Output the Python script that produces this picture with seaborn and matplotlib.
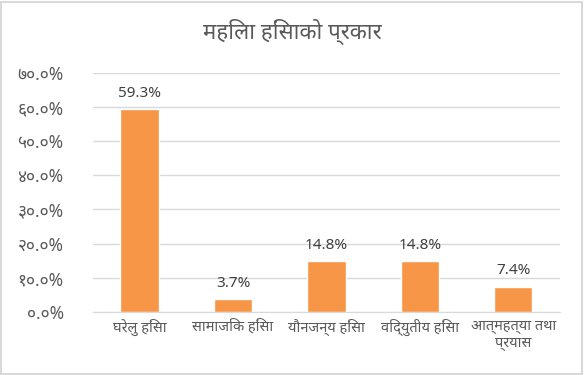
import numpy as np
import pandas as pd
import matplotlib.pyplot as plt
import seaborn as sns

# data
prakar = ['घरेलु हिंसा', 'सामाजिक हिंसा', 'यौनजन्य हिंसा', 'विद्युतीय हिंसा', 'आत्महत्या तथा\nप्रयास']
pratishat = [0.593, 0.037, 0.148, 0.148, 0.074]
yticks = [0.0, 0.1, 0.2, 0.3, 0.4, 0.5, 0.6, 0.7]
ytick_labels = ['०.०%', '१०.०%', '२०.०%', '३०.०%', '४०.०%', '५०.०%', '६०.०%', '७०.०%']

sns.set_style('white')
plt.rcParams['font.family'] = ['Noto Sans', 'DejaVu Sans']

df = pd.DataFrame({'prakar': prakar, 'pratishat': pratishat})

fig = plt.figure(figsize=(5.84, 3.75), dpi=100)
ax = fig.add_axes([0.159, 0.168, 0.8, 0.638])

sns.barplot(data=df, x='prakar', y='pratishat', color='#F79646', width=0.41,
            saturation=1, ax=ax, zorder=3)

ax.set_ylim(0, 0.7)
ax.set_yticks(yticks)
ax.set_yticklabels(ytick_labels, color='#595959', fontsize=12.5)
ax.tick_params(axis='x', colors='#595959', labelsize=10.5, length=0, pad=5)
ax.tick_params(axis='y', length=0, pad=21)
ax.grid(axis='y', color='#D9D9D9', linewidth=1, zorder=0)
ax.set_xlabel('')
ax.set_ylabel('')
for s in ['top', 'right', 'left']:
    ax.spines[s].set_visible(False)
ax.spines['bottom'].set_color('#D9D9D9')

for i, v in enumerate(pratishat):
    ax.text(i, v + 0.025, f'{v*100:.1f}%', ha='center', va='bottom',
            fontsize=11, color='#404040')

fig.suptitle('महिला हिंसाको प्रकार', y=0.95, fontsize=16, color='#595959')

# chart border
fig.patches.append(plt.Rectangle((0.002, 0.003), 0.995, 0.993, transform=fig.transFigure,
                                 fill=False, edgecolor='#D9D9D9', linewidth=1.5))

fig.savefig('out.png', dpi=100)
